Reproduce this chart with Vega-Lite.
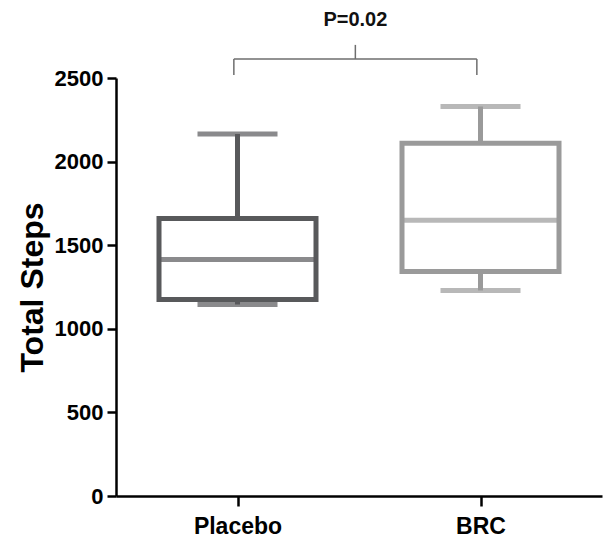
{
  "$schema": "https://vega.github.io/schema/vega-lite/v6.json",
  "autosize": {"type": "none"},
  "padding": {"left": 116, "top": 78, "right": 3, "bottom": 51},
  "width": 486,
  "height": 418,
  "background": "white",
  "config": {
    "view": {"stroke": null},
    "font": "Liberation Sans"
  },
  "datasets": {
    "boxes": [
      {"group": "Placebo", "idx": 1, "lower": 1145, "q1": 1175, "median": 1415, "q3": 1660, "upper": 2165, "color": "Placebo"},
      {"group": "BRC", "idx": 2, "lower": 1229, "q1": 1343, "median": 1649, "q3": 2110, "upper": 2330, "color": "BRC"}
    ],
    "bracket": [
      {"label": "P=0.02", "from": 0.985, "to": 1.985, "mid": 1.485, "y": 2614, "yEnd": 2518, "yTop": 2698, "yText": 2845}
    ]
  },
  "layer": [
    {
      "data": {"name": "boxes"},
      "mark": {"type": "rule", "strokeWidth": 5},
      "encoding": {
        "x": {"field": "idx", "type": "quantitative", "scale": {"domain": [0.5, 2.5], "padding": 0, "nice": false, "zero": false},
          "axis": {"values": [1, 2], "labelExpr": "datum.value == 1 ? 'Placebo' : 'BRC'", "title": null,
            "domainColor": "black", "domainWidth": 2.5, "tickColor": "black", "tickWidth": 2.5, "tickSize": 10,
            "labelFont": "Liberation Sans", "labelFontWeight": "bold", "labelFontSize": 23, "labelColor": "black", "labelPadding": 9, "grid": false}},
        "y": {"field": "lower", "type": "quantitative", "scale": {"domain": [0, 2500], "nice": false},
          "axis": {"values": [0, 500, 1000, 1500, 2000, 2500], "format": "d", "title": "Total Steps", "grid": false,
            "domainColor": "black", "domainWidth": 2.5, "tickColor": "black", "tickWidth": 2.5, "tickSize": 9,
            "labelFont": "Liberation Sans", "labelFontWeight": "bold", "labelFontSize": 22, "labelColor": "black", "labelPadding": 4,
            "titleFont": "Liberation Sans", "titleFontWeight": "bold", "titleFontSize": 32, "titleColor": "black", "titlePadding": 5}},
        "y2": {"field": "upper"},
        "color": {"field": "color", "type": "nominal", "scale": {"domain": ["Placebo", "BRC"], "range": ["#58595b", "#9a9a9a"]}, "legend": null}
      }
    },
    {
      "data": {"name": "boxes"},
      "mark": {"type": "bar", "size": 157, "fill": "white", "strokeWidth": 5},
      "encoding": {
        "x": {"field": "idx", "type": "quantitative"},
        "y": {"field": "q1", "type": "quantitative"},
        "y2": {"field": "q3"},
        "stroke": {"field": "color", "type": "nominal", "scale": {"domain": ["Placebo", "BRC"], "range": ["#58595b", "#9a9a9a"]}, "legend": null}
      }
    },
    {
      "data": {"name": "boxes"},
      "mark": {"type": "tick", "orient": "horizontal", "size": 157, "thickness": 5},
      "encoding": {
        "x": {"field": "idx", "type": "quantitative"},
        "y": {"field": "median", "type": "quantitative"},
        "color": {"field": "color", "type": "nominal", "legend": null}
      }
    },
    {
      "data": {"name": "boxes"},
      "mark": {"type": "tick", "orient": "horizontal", "size": 80, "thickness": 5},
      "encoding": {
        "x": {"field": "idx", "type": "quantitative"},
        "y": {"field": "upper", "type": "quantitative"},
        "color": {"field": "color", "type": "nominal", "legend": null}
      }
    },
    {
      "data": {"name": "boxes"},
      "mark": {"type": "tick", "orient": "horizontal", "size": 80, "thickness": 5},
      "encoding": {
        "x": {"field": "idx", "type": "quantitative"},
        "y": {"field": "lower", "type": "quantitative"},
        "color": {"field": "color", "type": "nominal", "legend": null}
      }
    },
    {
      "data": {"name": "bracket"},
      "mark": {"type": "rule", "color": "#6e6e6e", "strokeWidth": 1.5},
      "encoding": {
        "x": {"field": "from", "type": "quantitative"},
        "x2": {"field": "to"},
        "y": {"field": "y", "type": "quantitative"}
      }
    },
    {
      "data": {"name": "bracket"},
      "mark": {"type": "rule", "color": "#6e6e6e", "strokeWidth": 1.5},
      "encoding": {
        "x": {"field": "from", "type": "quantitative"},
        "y": {"field": "y", "type": "quantitative"},
        "y2": {"field": "yEnd"}
      }
    },
    {
      "data": {"name": "bracket"},
      "mark": {"type": "rule", "color": "#6e6e6e", "strokeWidth": 1.5},
      "encoding": {
        "x": {"field": "to", "type": "quantitative"},
        "y": {"field": "y", "type": "quantitative"},
        "y2": {"field": "yEnd"}
      }
    },
    {
      "data": {"name": "bracket"},
      "mark": {"type": "rule", "color": "#6e6e6e", "strokeWidth": 1.5},
      "encoding": {
        "x": {"field": "mid", "type": "quantitative"},
        "y": {"field": "y", "type": "quantitative"},
        "y2": {"field": "yTop"}
      }
    },
    {
      "data": {"name": "bracket"},
      "mark": {"type": "text", "font": "Liberation Sans", "fontWeight": "bold", "fontSize": 20, "color": "#111111", "baseline": "middle", "align": "center"},
      "encoding": {
        "x": {"field": "mid", "type": "quantitative"},
        "y": {"field": "yText", "type": "quantitative"},
        "text": {"field": "label"}
      }
    }
  ]
}
